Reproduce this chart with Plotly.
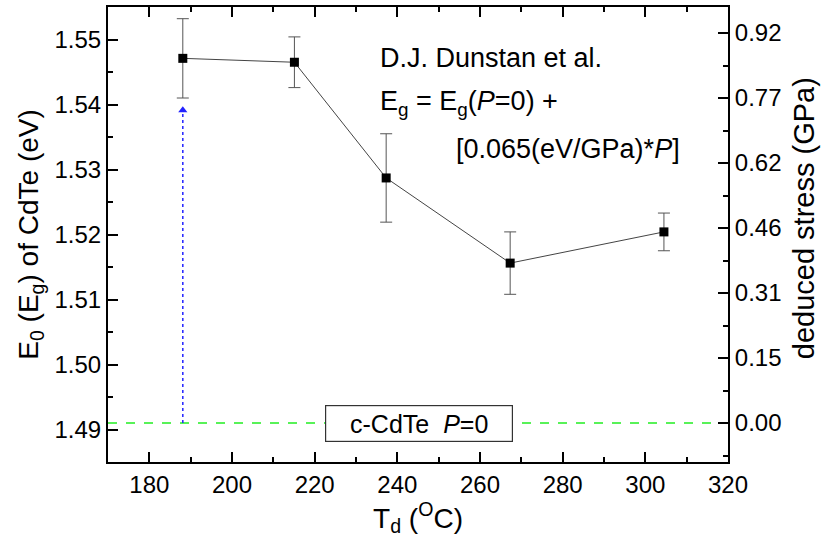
import plotly.graph_objects as go

# Deposition temperature (°C), band-gap energy E0 (eV) and its uncertainty
temps = [188.1, 215.1, 237.3, 267.3, 304.5]
energies = [1.5471, 1.5465, 1.5287, 1.5156, 1.5204]
errors = [0.0061, 0.0039, 0.0068, 0.0048, 0.0029]

# Unstrained c-CdTe reference gap and pressure coefficient
e_ref = 1.491          # eV at P = 0
dE_dP = 0.065          # eV/GPa

# Arrow from the P=0 level up to the first sample
arrow_x = temps[0]
arrow_top = 1.540

x_range = [170, 320]
y_range = [1.485, 1.555]
x_ticks = [180, 200, 220, 240, 260, 280, 300, 320]
y_ticks = [1.49, 1.50, 1.51, 1.52, 1.53, 1.54, 1.55]

# Right-hand stress axis: one tick per 0.01 eV step
stress_range = [(y_range[0] - e_ref) / dE_dP, (y_range[1] - e_ref) / dE_dP]
stress_ticks = [k * 0.01 / dE_dP for k in range(7)]
stress_text = [f"{v:.2f}" for v in stress_ticks]
stress = [(e - e_ref) / dE_dP for e in energies]

FONT = "Liberation Sans, Arial, sans-serif"
AX = dict(color="black", size=24, family=FONT)

fig = go.Figure()

# dotted blue arrow shaft
fig.add_trace(go.Scatter(
    x=[arrow_x, arrow_x], y=[e_ref, arrow_top - 0.0008], mode="lines",
    line=dict(color="#2222ff", width=1.5, dash="dot"),
    hoverinfo="skip", showlegend=False))
# arrow head
fig.add_trace(go.Scatter(
    x=[arrow_x], y=[arrow_top - 0.0009], mode="markers",
    marker=dict(symbol="triangle-up", size=8, color="#2222ff"),
    hoverinfo="skip", showlegend=False))

# measured band gap with error bars
fig.add_trace(go.Scatter(
    x=temps, y=energies, mode="lines+markers",
    line=dict(color="#444444", width=1),
    marker=dict(symbol="square", size=9, color="black"),
    error_y=dict(type="data", array=errors, visible=True,
                 color="#555555", thickness=1, width=6),
    showlegend=False))

# same points expressed as stress on the right axis (invisible, keeps axis live)
fig.add_trace(go.Scatter(
    x=temps, y=stress, yaxis="y2", mode="markers",
    marker=dict(opacity=0), hoverinfo="skip", showlegend=False))

# P = 0 reference level
fig.add_shape(type="line", xref="paper", x0=0, x1=1, yref="y", y0=e_ref, y1=e_ref,
              line=dict(color="#22ee22", width=1.5, dash="dash"), layer="below")

fig.add_annotation(x=245.2, y=e_ref, xref="x", yref="y",
                   text="c-CdTe  <i>P</i>=0", showarrow=False,
                   font=dict(size=25, family=FONT, color="black"),
                   width=180, height=29,
                   bgcolor="white", bordercolor="#333333", borderwidth=1.2,
                   borderpad=3)

txt_font = dict(size=27, family=FONT, color="black")
fig.add_annotation(x=0.435, y=0.888, xref="paper", yref="paper",
                   xanchor="left", yanchor="middle",
                   text="D.J. Dunstan et al.", showarrow=False, font=txt_font)
fig.add_annotation(x=0.435, y=0.790, xref="paper", yref="paper",
                   xanchor="left", yanchor="middle",
                   text="E<sub>g</sub> = E<sub>g</sub>(<i>P</i>=0) +",
                   showarrow=False, font=txt_font)
fig.add_annotation(x=0.926, y=0.689, xref="paper", yref="paper",
                   xanchor="right", yanchor="middle",
                   text="[0.065(eV/GPa)*<i>P</i>]", showarrow=False, font=txt_font)

# right-hand axis title
fig.add_annotation(x=1.122, y=0.535, xref="paper", yref="paper",
                   xanchor="center", yanchor="middle", textangle=-90,
                   text="deduced stress (GPa)", showarrow=False,
                   font=dict(size=29, family=FONT, color="black"))

fig.update_layout(
    width=822, height=544,
    margin=dict(l=108, r=94, t=5, b=82),
    paper_bgcolor="white", plot_bgcolor="white",
    font=dict(family=FONT, color="black"),
    xaxis=dict(
        range=x_range, tickmode="array", tickvals=x_ticks,
        ticks="inside", ticklen=10, tickwidth=1.5, tickcolor="black",
        minor=dict(dtick=10, tick0=170, ticks="inside", ticklen=5,
                   tickwidth=1.5, tickcolor="black"),
        showline=True, linecolor="black", linewidth=2, mirror="ticks",
        showgrid=False, zeroline=False, tickfont=AX,
        title=dict(text="T<sub>d</sub> (<sup>O</sup>C)",
                   font=dict(size=28, family=FONT, color="black"), standoff=6),
    ),
    yaxis=dict(
        range=y_range, tickmode="array", tickvals=y_ticks,
        tickformat=".2f",
        ticks="inside", ticklen=10, tickwidth=1.5, tickcolor="black",
        minor=dict(dtick=0.005, tick0=1.485, ticks="inside", ticklen=5,
                   tickwidth=1.5, tickcolor="black"),
        showline=True, linecolor="black", linewidth=2,
        showgrid=False, zeroline=False, tickfont=AX,
        title=dict(text="E<sub>0</sub> (E<sub>g</sub>) of CdTe (eV)",
                   font=dict(size=28, family=FONT, color="black"), standoff=8),
    ),
    yaxis2=dict(
        overlaying="y", side="right", range=stress_range,
        tickmode="array", tickvals=stress_ticks, ticktext=stress_text,
        ticks="inside", ticklen=10, tickwidth=1.5, tickcolor="black",
        minor=dict(dtick=0.005 / dE_dP, tick0=0, ticks="inside", ticklen=5,
                   tickwidth=1.5, tickcolor="black"),
        showline=True, linecolor="black", linewidth=2,
        showgrid=False, zeroline=False, tickfont=AX,
    ),
)

fig.write_html("out.html")
